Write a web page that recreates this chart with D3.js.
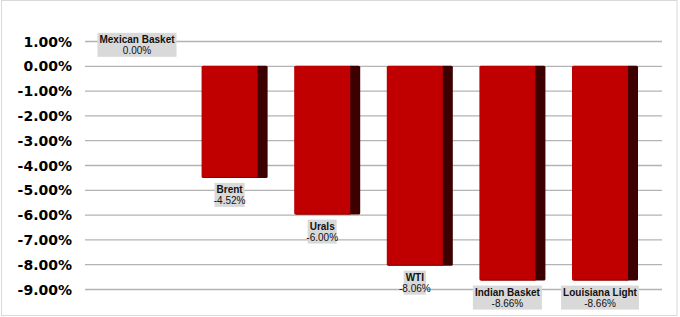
<!DOCTYPE html>
<html>
<head>
<meta charset="utf-8">
<script src="https://cdn.jsdelivr.net/npm/d3@7"></script>
<style>
  body { margin: 0; background: #fff; }
  svg { display: block; }
</style>
</head>
<body>
<svg id="chart" width="680" height="317"></svg>
<script>
// Chart data
const crudes = ["Mexican Basket", "Brent", "Urals", "WTI", "Indian Basket", "Louisiana Light"];
const changes = [0.00, -4.52, -6.00, -8.06, -8.66, -8.66];
const tickValues = [1, 0, -1, -2, -3, -4, -5, -6, -7, -8, -9];

const svg = d3.select("#chart");
const left = 85, right = 662;
const sideW = 10;

// plain hyphen for negatives, like the original
const pct = d => d3.format(".2f")(d).replace("\u2212", "-") + "%";

// outer frame
svg.append("rect")
  .attr("x", 1.5).attr("y", 0.5)
  .attr("width", 675.5).attr("height", 315)
  .attr("fill", "#fff")
  .attr("stroke", "#d9d9d9");

let xScale = d3.scaleBand()
  .domain(crudes)
  .range([left, right])
  .paddingInner(0.287)
  .paddingOuter(0.259);

let yScale = d3.scaleLinear()
  .domain([-9, 1])
  .range([289, 41]);

// gridlines
svg.append("g")
  .selectAll("line")
  .data(tickValues)
  .enter()
  .append("line")
  .attr("x1", left).attr("x2", right)
  .attr("y1", d => yScale(d) + 0.5)
  .attr("y2", d => yScale(d) + 0.5)
  .attr("stroke", "#b3b3b3")
  .attr("stroke-width", 1.3);

// y axis labels
let yAxis = d3.axisLeft(yScale)
  .tickValues(tickValues)
  .tickFormat(pct)
  .tickSize(0)
  .tickPadding(0);

let yg = svg.append("g")
  .attr("transform", "translate(72,0)")
  .call(yAxis);
yg.select(".domain").remove();
yg.selectAll("text")
  .attr("font-family", "DejaVu Sans")
  .attr("font-weight", "bold")
  .attr("font-size", "14px")
  .attr("fill", "#000")
  .attr("dy", "0.36em");

const rows = crudes.map((c, i) => ({ name: c, value: changes[i] }));
const frontW = xScale.bandwidth() - sideW;

// bars
let bars = svg.append("g").selectAll("g.bar")
  .data(rows.filter(d => d.value !== 0))
  .enter()
  .append("g");

bars.append("rect")
  .attr("x", d => xScale(d.name) + frontW - 2)
  .attr("y", yScale(0))
  .attr("width", sideW + 2)
  .attr("height", d => yScale(d.value) - yScale(0))
  .attr("rx", 1.5)
  .attr("fill", "#3d0000");

bars.append("rect")
  .attr("x", d => xScale(d.name))
  .attr("y", yScale(0))
  .attr("width", frontW)
  .attr("height", d => yScale(d.value) - yScale(0))
  .attr("rx", 1.5)
  .attr("fill", "#c00000");

bars.append("line")
  .attr("x1", d => xScale(d.name) + 1.5)
  .attr("x2", d => xScale(d.name) + frontW)
  .attr("y1", d => yScale(d.value) - 0.5)
  .attr("y2", d => yScale(d.value) - 0.5)
  .attr("stroke", "#8a0000")
  .attr("stroke-width", 1);

// data labels
let labels = svg.append("g").selectAll("g.label")
  .data(rows)
  .enter()
  .append("g")
  .attr("transform", d => {
    let cx = xScale(d.name) + frontW / 2;
    let top = d.value === 0 ? yScale(0) - 33 : yScale(d.value) + 5;
    return `translate(${cx},${top})`;
  });

let box = labels.append("rect")
  .attr("fill", "#d9d9d9")
  .attr("y", 0)
  .attr("height", 24);

labels.append("text")
  .attr("y", 10.5)
  .attr("text-anchor", "middle")
  .attr("font-family", "Liberation Sans, Arial, sans-serif")
  .attr("font-weight", "bold")
  .attr("font-size", "10px")
  .attr("fill", "#111")
  .text(d => d.name);

labels.append("text")
  .attr("y", 21.5)
  .attr("text-anchor", "middle")
  .attr("font-family", "Liberation Sans, Arial, sans-serif")
  .attr("font-size", "10px")
  .attr("fill", "#111")
  .text(d => pct(d.value));

box.each(function () {
  let w = d3.select(this.parentNode).select("text").node().getComputedTextLength() + 4;
  d3.select(this).attr("x", -w / 2).attr("width", w);
});
</script>
</body>
</html>
